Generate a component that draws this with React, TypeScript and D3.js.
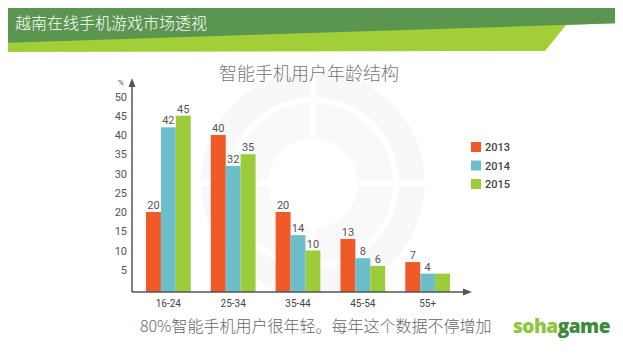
import React from "react";
import * as d3 from "d3";

const categories = ["16-24", "25-34", "35-44", "45-54", "55+"];
const years = ["2013", "2014", "2015"];
const values2013 = [20, 40, 20, 13, 7];
const values2014 = [42, 32, 14, 8, 4];
const values2015 = [45, 35, 10, 6, 4];
const hiddenLabels = [[], [], [4]]; // category indexes without a value label, per series
const yTicks = [5, 10, 15, 20, 25, 30, 35, 40, 45, 50];
const colors = ["#f05a28", "#6cbfca", "#9ccc3a"];

const W = 623;
const H = 354;

export default function App() {
  const series = [values2013, values2014, values2015];
  const x0 = d3.scaleBand<string>().domain(categories).range([146, 450]).paddingInner(0.31).paddingOuter(0);
  const x1 = d3.scaleBand<string>().domain(years).range([0, x0.bandwidth()]).padding(0);
  const y = d3.scaleLinear().domain([0, 50]).range([289, 96.5]);
  const baseY = 292;
  const axisX = 132;
  const cx = 313, cy = 183;
  const ringArc = d3.arc();

  return (
    <div style={{ margin: -8 }}>
      <svg width={W} height={H} style={{ display: "block", background: "#fff" }}>
        {/* header */}
        <polygon points={`0,0 ${W},0 ${W},23 566,25 545,51 0,52`} fill="#a2cf38" />
        <polygon points={`0,0 ${W},0 ${W},23 0,43`} fill="#5b9650" />
        <text x={15} y={29} fill="#fff" fontSize={16} fontFamily="'Noto Sans CJK SC', sans-serif" fontWeight={300}>
          越南在线手机游戏市场透视
        </text>

        {/* watermark */}
        <g>
          <path d={ringArc({ innerRadius: 86, outerRadius: 112, startAngle: 0, endAngle: Math.PI * 2 }) || ""} transform={`translate(${cx},${cy})`} fill="#f8f8f8" />
          <path d={ringArc({ innerRadius: 45, outerRadius: 80, startAngle: 0, endAngle: Math.PI * 2 }) || ""} transform={`translate(${cx},${cy})`} fill="#f9f9f9" />
          <rect x={cx - 3} y={cy - 114} width={6} height={228} fill="#fff" />
          <rect x={cx - 114} y={cy - 3} width={228} height={6} fill="#fff" />
        </g>

        {/* chart title */}
        <text x={309} y={80} textAnchor="middle" fill="#777" fontSize={18} fontFamily="'Noto Sans CJK SC', sans-serif" fontWeight={300}>
          智能手机用户年龄结构
        </text>

        {/* bars */}
        {categories.map((c, ci) => (
          <g key={c} transform={`translate(${x0(c)},0)`}>
            {years.map((yr, si) => {
              const v = series[si][ci];
              const bx = x1(yr)!;
              const top = y(v);
              return (
                <g key={yr}>
                  <rect x={bx} y={top} width={x1.bandwidth()} height={baseY - top} fill={colors[si]} />
                  {!hiddenLabels[si].includes(ci) && (
                    <text x={bx + x1.bandwidth() / 2} y={top - 3} textAnchor="middle" fontSize={11} fill="#555" fontFamily="Roboto, sans-serif">
                      {v}
                    </text>
                  )}
                </g>
              );
            })}
            <text x={x0.bandwidth() / 2} y={307} textAnchor="middle" fontSize={10} fill="#444" fontFamily="Roboto, sans-serif">
              {c}
            </text>
          </g>
        ))}

        {/* axes */}
        <line x1={axisX} y1={baseY} x2={axisX} y2={84} stroke="#555" strokeWidth={1.5} />
        <polygon points={`${axisX - 3.5},87 ${axisX},78 ${axisX + 3.5},87`} fill="#555" />
        <line x1={axisX} y1={baseY} x2={466} y2={baseY} stroke="#555" strokeWidth={1.5} />
        <polygon points={`463,${baseY - 3.5} 472,${baseY} 463,${baseY + 3.5}`} fill="#555" />
        {yTicks.map((t) => (
          <text key={t} x={127} y={y(t) + 4} textAnchor="end" fontSize={11} fill="#555" fontFamily="Roboto, sans-serif">
            {t}
          </text>
        ))}
        <text x={121} y={85} textAnchor="middle" fontSize={8} fill="#555" fontFamily="Roboto, sans-serif">%</text>

        {/* legend */}
        {years.map((yr, i) => (
          <g key={yr} transform={`translate(471,${142 + i * 18.5})`}>
            <rect x={0} y={0} width={10} height={10} fill={colors[i]} />
            <text x={14} y={9} fontSize={11} fill="#444" fontWeight={500} fontFamily="Roboto, sans-serif">{yr}</text>
          </g>
        ))}

        {/* footer */}
        <text x={140} y={332} fontSize={16} fill="#666" fontFamily="'Noto Sans CJK SC', serif" fontWeight={300}>
          80%智能手机用户很年轻。每年这个数据不停增加
        </text>
        <text x={513} y={333} fontSize={19} fontWeight={900} fontFamily="'Open Sans', 'DejaVu Sans', sans-serif" textLength={97} lengthAdjust="spacingAndGlyphs" letterSpacing={-0.5}>
          <tspan fill="#8dc63f">soha</tspan>
          <tspan fill="#3d8a3a">game</tspan>
        </text>
      </svg>
    </div>
  );
}
